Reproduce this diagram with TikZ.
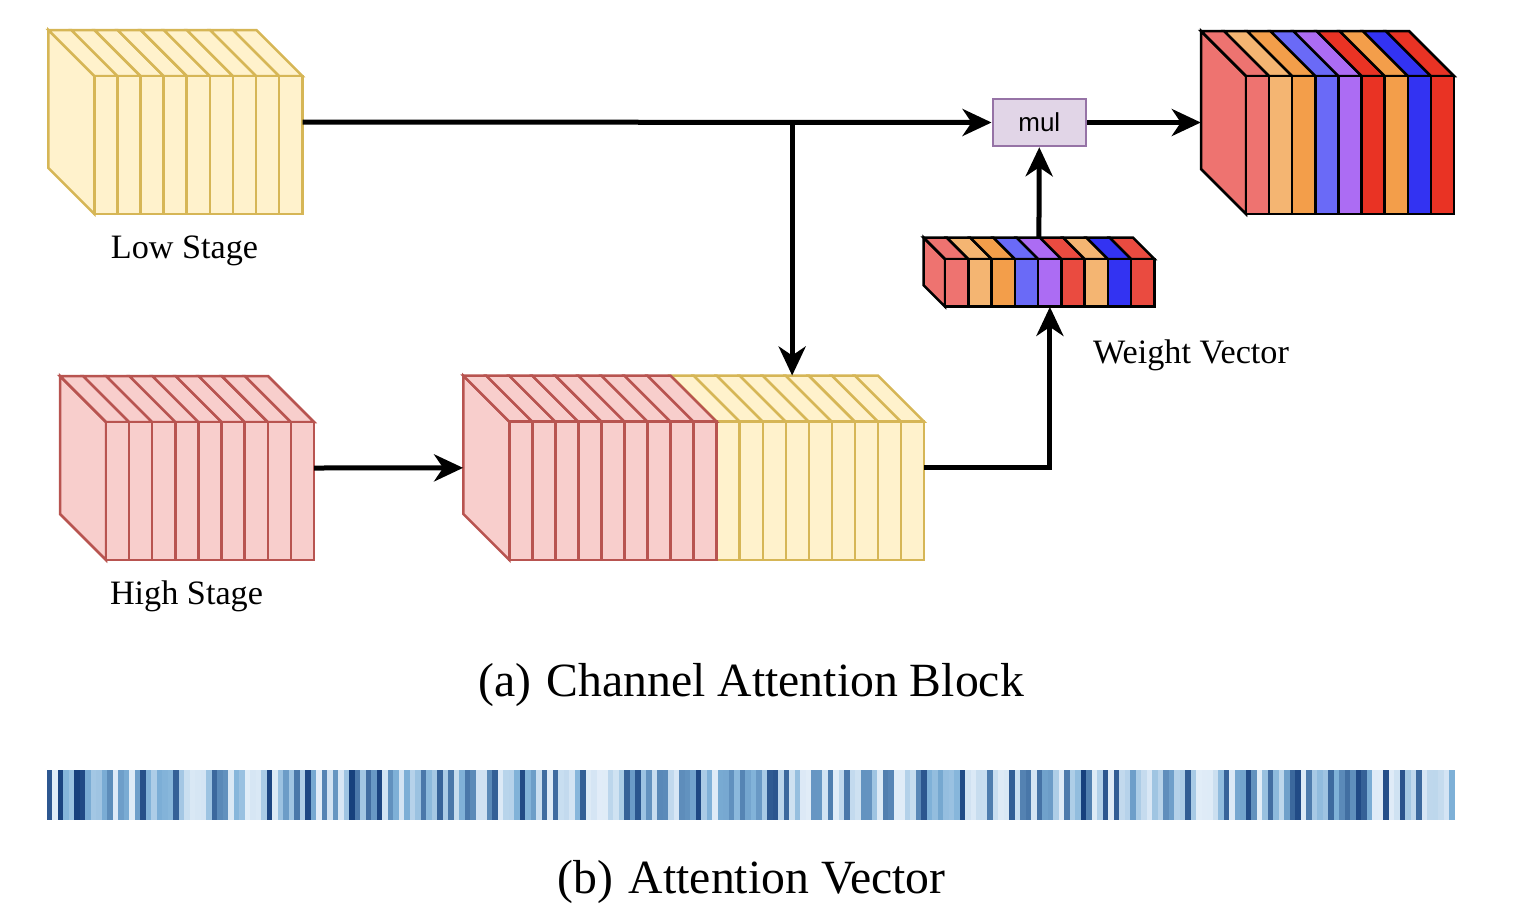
\documentclass[tikz,border=0pt]{standalone}
\usepackage{fontspec}
\setmainfont{Liberation Serif}
\newfontfamily\mulfont{Liberation Sans}
\usetikzlibrary{arrows.meta,fit}
\definecolor{ylf}{HTML}{FFF2CC}
\definecolor{yls}{HTML}{D6B656}
\definecolor{rdf}{HTML}{F8CECC}
\definecolor{rds}{HTML}{B85450}
\definecolor{mulf}{HTML}{E1D5E7}
\definecolor{muls}{HTML}{9673A6}
\definecolor{cA}{HTML}{EE7370}
\definecolor{cB}{HTML}{F4B572}
\definecolor{cC}{HTML}{F39E4A}
\definecolor{cD}{HTML}{6A6AF7}
\definecolor{cE}{HTML}{AC6CF3}
\definecolor{cF}{HTML}{E93324}
\definecolor{cG}{HTML}{3333F2}
\definecolor{cH}{HTML}{EA4B40}
\definecolor{blL}{HTML}{E2EDF8}
\definecolor{blM}{HTML}{7FB1D8}
\definecolor{blD}{HTML}{163F7C}

\tikzset{
  flow/.style={line width=5pt, -{Stealth[length=29pt,width=27pt,inset=9pt]}},
  lbl/.style={font=\fontsize{34.2}{40}\selectfont, inner sep=0, anchor=base},
  capt/.style={font=\fontsize{47.7}{55}\selectfont, inner sep=0, anchor=base},
  mulbox/.style={draw=muls, fill=mulf, line width=2.5pt, minimum width=93pt, minimum height=47pt, inner sep=0, font=\mulfont\fontsize{26}{30}\selectfont},
  fitbox/.style={inner sep=0},
  facet/.style={line width=2.5pt, line join=miter},
}

% #1 front-left x, #2 top y, #3 bottom y, #4 slice width, #5 depth, #6 stroke, #7 colour list
\newcommand\slabrow[7]{%
  \foreach \col [count=\i from 0] in {#7} {
    \pgfmathsetmacro\xa{#1+\i*#4}
    \pgfmathsetmacro\xb{#1+(\i+1)*#4}
    \filldraw[facet, fill=\col, draw=#6] (\xa,#2) -- (\xb,#2) -- (\xb-#5,#2-#5) -- (\xa-#5,#2-#5) -- cycle;
    \filldraw[facet, fill=\col, draw=#6] (\xa,#2) rectangle (\xb,#3);
  }
}
% #1 front-left x, #2 top y, #3 bottom y, #4 depth, #5 fill, #6 stroke
\newcommand\sideface[6]{%
  \filldraw[facet, fill=#5, draw=#6] (#1-#4,#2-#4) -- (#1,#2) -- (#1,#3) -- (#1-#4,#3-#4) -- cycle;
}

\begin{document}
\begin{tikzpicture}[x=1pt,y=-1pt]
\useasboundingbox (0,0) rectangle (1524,922);

% Low stage
\sideface{94.3}{76}{214}{46}{ylf}{yls}
\slabrow{94.3}{76}{214}{23.11}{46}{yls}{ylf,ylf,ylf,ylf,ylf,ylf,ylf,ylf,ylf}
\node[fitbox, fit={(48,30) (302.3,214)}] (low) {};
\node[lbl] (lowlbl) at (184.5,258.3) {Low Stage};

% High stage
\sideface{106}{422}{560}{46}{rdf}{rds}
\slabrow{106}{422}{560}{23.11}{46}{rds}{rdf,rdf,rdf,rdf,rdf,rdf,rdf,rdf,rdf}
\node[fitbox, fit={(60,376) (314,560)}] (high) {};
\node[lbl] (highlbl) at (186.5,604.5) {High Stage};

% Concatenated block
\slabrow{716.7}{421.7}{560}{23.04}{46}{yls}{ylf,ylf,ylf,ylf,ylf,ylf,ylf,ylf,ylf}
\sideface{509.3}{421.7}{560}{46}{rdf}{rds}
\slabrow{509.3}{421.7}{560}{23.04}{46}{rds}{rdf,rdf,rdf,rdf,rdf,rdf,rdf,rdf,rdf}
\node[fitbox, fit={(463.3,375.7) (924,560)}] (cat) {};

% Weight vector
\sideface{945}{259}{306.7}{21.5}{cA}{black}
\slabrow{945}{259}{306.7}{23.26}{21.5}{black}{cA,cB,cC,cD,cE,cH,cB,cG,cH}
\node[fitbox, fit={(923.5,237.5) (1154.3,306.7)}] (wv) {};
\node[lbl] (wvlbl) at (1191,363.5) {Weight Vector};

% Output block
\sideface{1246}{76}{214}{45}{cA}{black}
\slabrow{1246}{76}{214}{23.11}{45}{black}{cA,cB,cC,cD,cE,cF,cC,cG,cF}
\node[fitbox, fit={(1201,31) (1454,214)}] (out) {};

% mul
\node[mulbox] (mul) at (1039.3,122.5) {mul};

% connectors
\coordinate (j) at ([xshift=98.5pt]cat.north |- low.east);
\draw[flow] (low.east) -- (mul.west);
\draw[flow] (j) -- (j |- cat.north);
\draw[flow] (high.east) -- (cat.west);
\draw[flow] (cat.east) -| ([xshift=11pt]wv.south);
\draw[flow] (wv.north) -- (mul.south);
\draw[flow] (mul.east) -- (out.west);

% caption (a)
\node[capt] (capa) at (751,696.7) {(a)\hspace{0.33em}Channel Attention Block};

% attention vector
\pgfmathsetseed{20}
\foreach \k in {0,...,255} {
  \pgfmathsetmacro\xa{46.7+\k*5.5}
  \pgfmathsetmacro\xb{\xa+5.7}
  \pgfmathsetmacro\v{100*(rnd^1.6)}
  \ifdim\v pt<45pt
    \pgfmathsetmacro\w{\v/45*100}
    \fill[blM!\w!blL] (\xa,770) rectangle (\xb,820);
  \else
    \pgfmathsetmacro\w{(\v-45)/55*100}
    \fill[blD!\w!blM] (\xa,770) rectangle (\xb,820);
  \fi
}
\node[fitbox, fit={(46.7,770) (1455,820)}] (attvec) {};

% caption (b)
\node[capt] (capb) at (751.5,893) {(b)\hspace{0.33em}Attention Vector};
\end{tikzpicture}
\end{document}
